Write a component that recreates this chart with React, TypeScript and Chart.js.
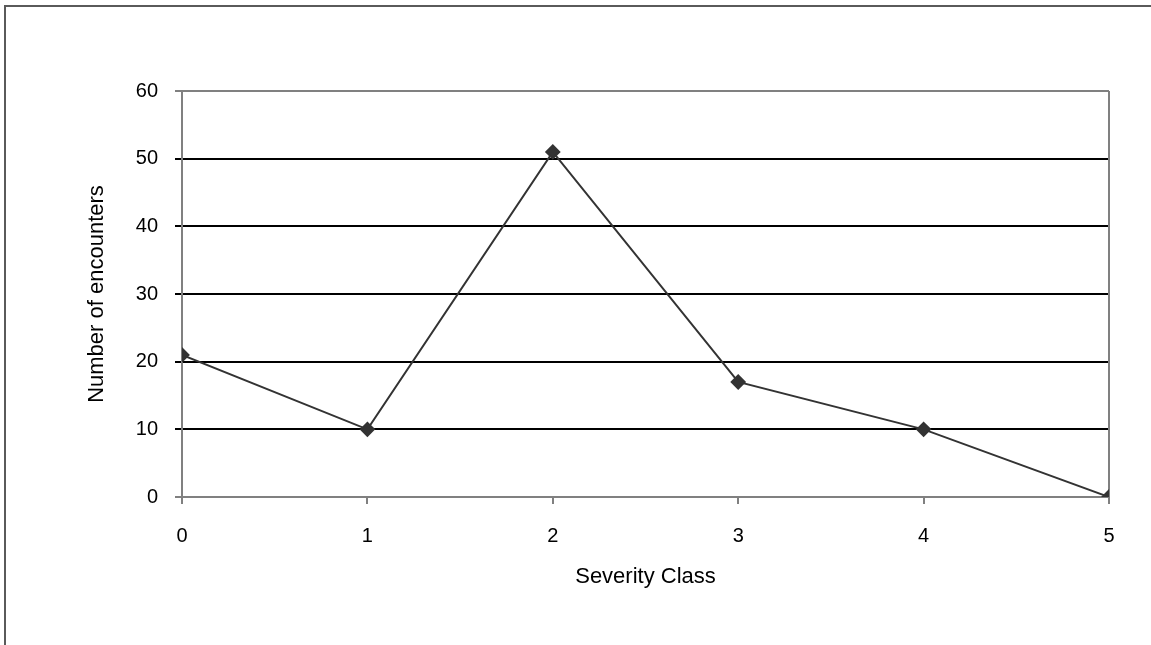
import React, { useEffect, useRef } from "react";
import { Chart, registerables } from "chart.js";

Chart.register(...registerables);

const severityClasses = [0, 1, 2, 3, 4, 5];
const encounters = [21, 10, 51, 17, 10, 0];
const yTickValues = [0, 10, 20, 30, 40, 50, 60];
const xTitle = "Severity Class";
const yTitle = "Number of encounters";

const FONT_FAMILY = "'Liberation Sans', Arial, Helvetica, sans-serif";

export default function App() {
  const ref = useRef<HTMLCanvasElement>(null);

  useEffect(() => {
    if (!ref.current) return;
    const font = { family: FONT_FAMILY, size: 20 };
    const titleFont = { family: FONT_FAMILY, size: 22 };
    const plotFrame = {
      id: "plotFrame",
      beforeDatasetsDraw(chart: any) {
        const { ctx, chartArea } = chart;
        ctx.save();
        ctx.strokeStyle = "#808080";
        ctx.lineWidth = 2;
        ctx.beginPath();
        ctx.moveTo(chartArea.right, chartArea.top);
        ctx.lineTo(chartArea.right, chartArea.bottom);
        ctx.stroke();
        ctx.restore();
      },
    };
    const chart = new Chart(ref.current, {
      type: "line",
      data: {
        datasets: [
          {
            data: severityClasses.map((x, i) => ({ x, y: encounters[i] })),
            borderColor: "#333333",
            backgroundColor: "#333333",
            borderWidth: 2,
            pointStyle: "rectRot",
            pointRadius: 6.5,
            pointBackgroundColor: "#333333",
            pointBorderColor: "#333333",
            tension: 0,
          },
        ],
      },
      options: {
        responsive: false,
        animation: false,
        layout: { padding: { left: 80, top: 91, right: 42, bottom: 48 } },
        plugins: { legend: { display: false }, tooltip: { enabled: false } },
        scales: {
          x: {
            type: "linear",
            min: 0,
            max: 5,
            afterFit(scale: any) {
              scale.height = 100;
            },
            ticks: {
              stepSize: 1,
              color: "#000",
              font,
              padding: 20,
              maxRotation: 0,
            },
            grid: {
              drawOnChartArea: false,
              drawTicks: true,
              tickLength: 7,
              color: "#808080",
              lineWidth: 2,
            },
            border: { display: true, color: "#808080", width: 2 },
            title: {
              display: true,
              text: xTitle,
              color: "#000",
              font: titleFont,
              padding: { top: 0, bottom: 7 },
            },
          },
          y: {
            type: "linear",
            min: 0,
            max: 60,
            afterFit(scale: any) {
              scale.width = 102;
            },
            afterBuildTicks(scale: any) {
              scale.ticks = yTickValues.map((v) => ({ value: v }));
            },
            ticks: {
              color: "#000",
              font,
              padding: 17,
            },
            grid: {
              drawTicks: true,
              tickLength: 7,
              lineWidth: 2,
              color: (c: any) =>
                c.tick && (c.tick.value === 0 || c.tick.value === 60) ? "#808080" : "#000000",
            },
            border: { display: true, color: "#808080", width: 2 },
            title: {
              display: true,
              text: yTitle,
              color: "#000",
              font: titleFont,
              padding: { top: 4, bottom: 0 },
            },
          },
        },
      },
      plugins: [plotFrame],
    });
    return () => chart.destroy();
  }, []);

  return (
    <div
      style={{
        position: "fixed",
        left: 0,
        top: 0,
        width: 1151,
        height: 645,
        overflow: "hidden",
        background: "#fff",
      }}
    >
      <div
        style={{
          position: "absolute",
          left: 4,
          top: 5,
          width: 1300,
          height: 800,
          border: "2px solid #5a5a5a",
          boxSizing: "border-box",
        }}
      />
      <canvas
        ref={ref}
        width={1151}
        height={645}
        style={{ position: "absolute", left: 0, top: 0, width: 1151, height: 645 }}
      />
    </div>
  );
}
